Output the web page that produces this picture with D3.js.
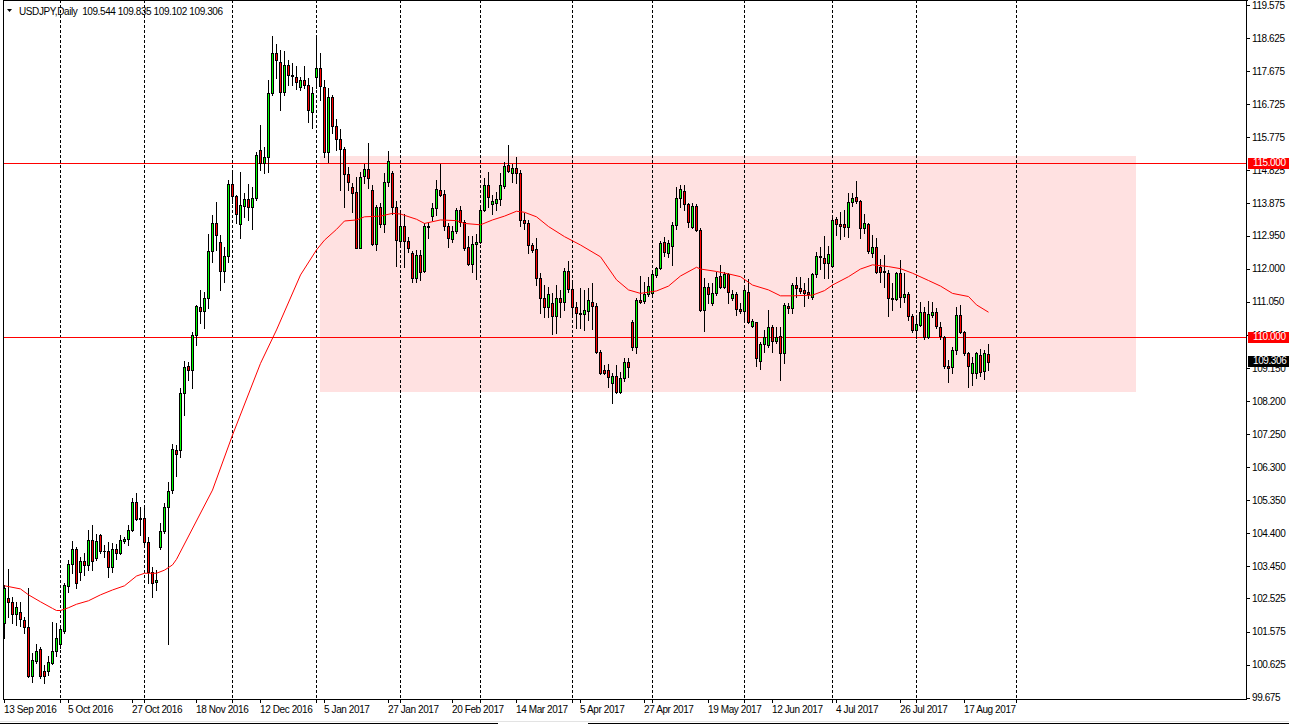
<!DOCTYPE html>
<html><head><meta charset="utf-8">
<script src="https://cdn.jsdelivr.net/npm/d3@7"></script>
<style>
html,body{margin:0;padding:0;background:#fff;overflow:hidden;}
svg{display:block;}
text{font-family:"Liberation Sans",Arial,sans-serif;font-size:10px;letter-spacing:-0.4px;}
</style></head><body>
<svg id="chart" width="1289" height="724"></svg>
<script>
// ---- data ----
const symbolTitle = "USDJPY,Daily";
const lastOHLC = ["109.544", "109.835", "109.102", "109.306"];
const opens = [101.83,102.55,102.42,102.07,102.13,101.91,101.70,100.31,100.74,101.08,100.44,100.43,100.66,101.01,101.22,101.60,102.88,103.51,103.94,103.30,
103.60,103.50,104.20,103.68,104.34,103.88,103.89,103.44,103.94,103.82,104.18,104.22,104.48,105.29,104.80,104.83,104.16,103.30,102.99,104.01,
104.46,105.14,105.64,106.79,106.80,108.42,109.20,109.09,110.10,110.89,110.79,111.15,112.51,113.30,112.76,111.92,112.37,114.42,114.09,113.27,
113.81,114.00,113.76,114.02,115.41,115.03,115.20,117.04,118.19,117.95,117.08,117.85,117.56,117.52,117.21,117.42,117.28,116.51,117.50,117.76,
117.23,115.36,116.94,116.10,115.72,115.43,114.71,114.36,114.19,112.60,114.66,114.85,114.26,112.70,113.76,113.28,114.50,114.74,113.76,112.80,
113.24,112.80,112.44,111.72,112.39,111.93,113.24,113.51,113.73,114.26,114.15,113.23,112.86,113.08,113.69,113.33,112.61,112.13,112.70,112.78,
113.70,114.39,113.85,113.90,113.99,114.38,114.98,114.74,114.88,114.74,113.40,113.30,112.68,112.56,111.72,111.17,110.91,111.02,110.65,111.15,
111.05,111.93,111.42,110.89,110.74,110.70,110.79,111.03,110.93,109.62,109.09,109.09,108.73,108.92,108.45,108.85,109.31,110.47,109.74,111.10,
111.07,111.26,111.31,111.83,112.01,112.77,112.46,112.65,113.25,114.02,114.24,113.85,113.19,113.80,113.11,110.81,111.46,111.00,111.29,111.79,
111.48,111.84,111.17,111.26,110.83,110.77,111.32,110.36,110.46,109.36,109.84,109.81,110.32,109.93,110.07,109.57,110.93,110.88,111.53,111.45,
111.39,111.33,111.18,111.84,112.36,112.31,112.17,112.09,113.43,113.29,113.29,113.19,113.91,114.05,113.94,113.16,113.28,112.46,112.63,112.06,
111.93,111.89,111.15,111.12,111.87,111.18,111.26,110.64,110.24,110.38,110.75,110.05,110.67,110.75,110.32,110.05,109.20,109.17,109.65,110.67,
110.19,109.57,108.99,108.99,109.52,109.06,109.544];
const highs = [102.90,103.37,102.58,102.43,102.41,102.00,102.82,100.95,101.22,101.12,100.62,100.86,101.85,101.81,101.70,102.96,103.63,104.19,104.00,103.73,
103.82,104.48,104.64,104.37,104.38,104.06,104.16,104.11,104.09,104.35,104.30,104.64,105.40,105.55,105.16,105.21,104.30,103.44,103.34,104.68,
105.26,105.88,106.96,106.93,108.56,109.35,109.33,110.19,110.96,111.39,111.34,113.00,113.54,113.91,112.97,112.63,114.55,114.83,114.12,114.79,
114.18,114.42,114.36,115.36,116.13,115.50,117.42,118.68,118.45,118.28,118.25,117.99,117.90,117.82,117.52,117.82,117.47,117.23,118.65,118.19,
117.42,117.18,117.00,116.30,116.00,115.50,114.93,114.45,114.64,114.79,115.01,115.62,114.40,113.83,113.88,114.74,115.39,114.80,113.93,113.59,
113.57,112.92,112.51,112.54,112.54,113.30,113.30,113.88,114.55,115.01,114.26,113.30,113.24,113.73,113.80,113.40,112.94,112.94,112.99,113.83,
114.60,114.79,114.12,114.21,114.74,115.07,115.55,115.02,115.22,114.83,113.60,113.40,112.73,112.87,111.87,111.53,111.48,111.29,111.53,111.39,
112.01,112.22,111.58,111.05,111.44,111.39,111.44,111.58,111.00,109.66,109.23,109.25,108.99,109.23,109.04,109.42,109.42,110.53,111.15,111.79,
111.63,111.77,111.96,112.06,112.80,112.92,112.82,113.33,114.36,114.39,114.39,113.88,113.88,113.85,113.16,111.72,111.60,111.60,111.91,112.11,
111.91,111.87,111.39,111.34,111.00,111.53,111.69,110.55,110.48,109.90,110.24,110.81,110.38,110.33,110.33,111.00,111.00,111.58,111.77,111.75,
111.58,111.72,111.89,112.49,112.63,112.94,112.65,113.49,113.49,113.64,113.69,114.16,114.18,114.53,113.97,113.57,113.30,112.97,112.89,112.27,
112.39,111.96,111.58,111.91,112.25,111.87,111.34,110.69,110.57,111.05,110.91,111.08,111.05,110.86,110.48,110.07,109.38,109.74,110.91,110.96,
110.22,109.62,109.47,109.62,109.68,109.66,109.835];
const lows = [101.40,102.00,101.81,101.76,101.74,101.54,100.28,100.12,100.66,100.25,100.09,100.33,100.63,100.87,101.10,101.54,102.72,103.25,102.82,103.06,
103.20,103.34,103.34,103.63,103.82,103.71,103.15,103.30,103.65,103.79,104.13,104.06,104.45,104.78,104.35,104.10,102.96,102.56,102.77,103.95,
104.40,101.22,105.55,106.03,106.60,107.80,108.80,108.56,109.81,110.45,110.29,110.86,112.20,112.54,111.39,111.63,112.20,113.88,113.30,112.87,
113.49,113.40,113.13,113.97,114.83,114.74,114.79,116.99,117.47,116.56,116.99,117.28,117.28,117.15,117.13,117.18,116.22,116.05,117.18,116.85,
115.22,115.07,115.90,115.40,114.26,113.78,114.26,113.64,112.58,112.58,114.45,114.31,112.67,112.54,113.19,113.04,114.38,113.57,112.08,112.63,
112.06,112.49,111.63,111.63,111.68,111.91,112.87,113.40,113.54,114.09,113.11,112.61,112.78,113.02,113.23,112.54,112.11,111.91,111.69,112.75,
113.67,113.78,113.57,113.70,113.83,114.31,114.79,114.50,114.45,113.23,113.15,112.45,112.49,111.53,110.72,110.62,110.62,110.12,110.14,110.62,
110.81,111.34,110.62,110.29,110.29,110.24,110.53,110.26,109.59,108.97,108.97,108.61,108.13,108.42,108.42,108.77,108.90,109.66,109.59,111.00,
111.00,111.22,111.27,111.77,111.98,112.35,112.33,112.11,113.13,113.78,113.70,113.21,113.16,113.08,110.79,110.22,111.00,110.96,111.25,111.44,
111.44,111.00,111.10,110.67,110.72,110.53,110.43,110.33,109.19,109.12,109.62,109.76,109.62,109.86,108.80,109.28,110.72,110.72,111.20,111.29,
110.93,111.15,111.12,111.77,111.98,111.72,111.72,112.06,112.97,112.84,112.94,112.92,113.80,113.88,112.89,113.02,112.46,112.33,111.87,111.63,
111.48,110.65,110.81,111.10,110.91,111.05,110.53,110.19,110.00,110.34,109.98,110.00,110.62,110.29,109.98,109.14,108.74,108.99,109.55,110.14,
109.52,108.61,108.66,108.87,108.92,108.83,109.102];
const closes = [102.82,102.42,102.07,102.29,101.93,101.70,100.31,100.76,101.01,100.31,100.30,100.69,101.01,101.38,101.64,102.91,103.51,103.94,102.96,103.60,
103.48,104.20,103.61,104.18,103.88,103.90,103.44,103.94,103.82,104.20,104.23,104.48,105.29,104.80,104.83,104.16,103.30,102.98,103.06,104.46,
105.14,105.62,106.81,106.67,108.42,109.17,109.09,110.10,110.93,110.77,111.15,112.51,113.30,112.97,111.92,112.37,114.42,114.09,113.56,113.83,
114.00,113.76,114.02,115.27,115.03,115.20,117.04,118.19,117.99,117.08,117.85,117.56,117.53,117.35,117.42,117.28,116.56,117.04,117.76,117.25,
115.36,116.94,116.10,115.72,115.43,114.71,114.50,114.18,112.60,114.62,114.85,114.60,112.70,113.76,113.28,114.50,115.09,113.76,112.81,113.24,
112.79,112.60,111.72,112.39,111.91,113.24,113.21,113.73,114.28,114.12,113.23,112.87,113.08,113.69,113.33,112.60,112.13,112.71,112.77,113.70,
114.39,114.07,113.93,114.00,114.40,114.95,114.81,114.89,114.74,113.40,113.30,112.68,112.54,111.72,111.17,110.91,111.26,110.65,111.15,111.05,
111.93,111.41,110.89,110.74,110.70,110.80,111.10,110.93,109.62,109.00,109.00,108.88,108.92,108.45,108.85,109.31,109.17,109.74,111.10,111.05,
111.26,111.50,111.84,112.01,112.75,112.47,112.75,113.25,114.02,114.28,113.85,113.35,113.80,113.11,110.81,111.46,111.27,111.29,111.77,111.48,
111.84,111.32,111.26,110.83,110.77,111.39,110.46,110.50,109.42,109.84,110.05,110.32,109.93,110.05,109.57,110.96,110.86,111.53,111.44,111.37,
111.31,111.27,111.84,112.36,112.33,112.17,112.42,113.40,113.27,113.24,113.21,113.91,114.02,113.93,113.16,113.32,112.52,112.61,111.91,111.91,
111.91,111.15,111.12,111.87,111.18,111.27,110.64,110.24,110.41,110.75,110.05,110.70,110.75,110.35,110.07,109.20,109.14,109.66,110.67,110.19,
109.59,109.19,109.30,109.57,109.04,109.57,109.306];
// moving average read at selected bars
const maBars = [0,4,6,9,12,13,14,16,18,21,24,27,30,33,35,38,40,42,43,52,57,64,68,74,78,80,83,85,88,90,94,97,99,103,105,109,113,115,119,122,125,128,130,133,136,140,144,149,153,156,159,163,166,169,173,174,178,181,184,187,191,194,197,202,205,207,211,214,217,221,224,227,231,234,237,241,243,246];
const maValues = [102.89,102.80,102.63,102.43,102.24,102.18,102.18,102.26,102.36,102.46,102.63,102.77,102.89,103.17,103.25,103.25,103.34,103.49,103.65,105.64,107.22,109.28,110.24,111.82,112.54,112.82,113.13,113.37,113.40,113.49,113.51,113.59,113.57,113.42,113.30,113.40,113.38,113.30,113.26,113.40,113.51,113.65,113.62,113.49,113.21,112.92,112.68,112.34,111.68,111.39,111.29,111.36,111.50,111.79,112.04,111.99,111.92,111.85,111.77,111.53,111.39,111.22,111.22,111.24,111.37,111.53,111.77,111.99,112.11,112.06,112.00,111.87,111.66,111.50,111.29,111.20,110.96,110.75];
const timeLabels = ["13 Sep 2016","5 Oct 2016","27 Oct 2016","18 Nov 2016","12 Dec 2016","5 Jan 2017","27 Jan 2017","20 Feb 2017","14 Mar 2017","5 Apr 2017","27 Apr 2017","19 May 2017","12 Jun 2017","4 Jul 2017","26 Jul 2017","17 Aug 2017"];
const timeLabelBars = [0,16,32,48,64,80,96,112,128,144,160,176,192,208,224,240];
const monthGridBars = [14,35,57,78,99,119,142,162,185,207,228,253];
const priceTicks = [119.575,118.625,117.675,116.725,115.775,114.825,113.875,112.950,112.000,111.050,110.100,109.150,108.200,107.250,106.300,105.350,104.400,103.450,102.525,101.575,100.625,99.675];
const levelLines = [115, 110];
const zonePrices = [115.237, 108.466];
const zoneBars = [79, 283];

// ---- drawing ----
const W = 1289, H = 724;
const plotL = 3, plotR = 1247, plotT = 0, plotB = 699;
const svg = d3.select("#chart");
const x = d3.scaleLinear().domain([0, 246]).range([4, 988]);
const y = d3.scaleLinear().domain([99.675, 119.575]).range([697.7, 5]);

svg.append("rect").attr("width", W).attr("height", H).attr("fill", "#fff");
svg.append("defs").append("clipPath").attr("id", "plotclip")
  .append("rect").attr("x", plotL).attr("y", plotT).attr("width", plotR - plotL).attr("height", plotB - plotT);

const plot = svg.append("g").attr("clip-path", "url(#plotclip)");

// zone rectangle
plot.append("rect")
  .attr("x", Math.round(x(zoneBars[0])))
  .attr("y", Math.round(y(zonePrices[0])))
  .attr("width", Math.round(x(zoneBars[1])) - Math.round(x(zoneBars[0])))
  .attr("height", Math.round(y(zonePrices[1])) - Math.round(y(zonePrices[0])))
  .attr("fill", "#ffe1e1");

// vertical dashed grid
plot.selectAll("line.grid").data(monthGridBars).join("line")
  .attr("class", "grid")
  .attr("x1", d => Math.round(x(d)) + 0.5).attr("x2", d => Math.round(x(d)) + 0.5)
  .attr("y1", plotT).attr("y2", plotB)
  .attr("stroke", "#000").attr("stroke-width", 1).attr("stroke-dasharray", "3,2")
  .attr("shape-rendering", "crispEdges");

// horizontal level lines
plot.selectAll("line.level").data(levelLines).join("line")
  .attr("class", "level")
  .attr("x1", plotL).attr("x2", plotR)
  .attr("y1", d => Math.round(y(d)) - 0.5).attr("y2", d => Math.round(y(d)) - 0.5)
  .attr("stroke", "#ff0000").attr("stroke-width", 1).attr("shape-rendering", "crispEdges");

// candles
const bars = d3.range(opens.length).map(i => ({i, o: opens[i], h: highs[i], l: lows[i], c: closes[i]}));
const cg = plot.append("g").attr("shape-rendering", "crispEdges");
bars.forEach(b => {
  const cx = Math.round(x(b.i));
  const yh = Math.round(y(b.h)), yl = Math.round(y(b.l));
  const top = Math.round(y(Math.max(b.o, b.c))), bot = Math.round(y(Math.min(b.o, b.c)));
  cg.append("line").attr("x1", cx + 0.5).attr("x2", cx + 0.5).attr("y1", yh).attr("y2", yl + 1)
    .attr("stroke", "#000").attr("stroke-width", 1);
  if (bot - top < 1) {
    cg.append("line").attr("x1", cx - 1).attr("x2", cx + 2).attr("y1", top + 0.5).attr("y2", top + 0.5)
      .attr("stroke", "#000").attr("stroke-width", 1);
  } else {
    cg.append("rect").attr("x", cx - 0.5).attr("y", top + 0.5).attr("width", 2).attr("height", bot - top)
      .attr("fill", b.c >= b.o ? "#00ff00" : "#ff0000").attr("stroke", "#000").attr("stroke-width", 1);
  }
});

// moving average
const maLine = d3.line().x(d => x(d[0]) + 0.5).y(d => y(d[1]));
plot.append("path").datum(maBars.map((b, k) => [b, maValues[k]]))
  .attr("d", maLine).attr("fill", "none").attr("stroke", "#ff0000").attr("stroke-width", 1);

// frame
const frame = svg.append("g").attr("shape-rendering", "crispEdges").attr("stroke", "#000").attr("stroke-width", 1);
frame.append("line").attr("x1", plotL + 0.5).attr("x2", plotL + 0.5).attr("y1", 0).attr("y2", plotB + 1);
frame.append("line").attr("x1", plotL).attr("x2", plotR + 1).attr("y1", 0.5).attr("y2", 0.5);
frame.append("line").attr("x1", plotR - 0.5).attr("x2", plotR - 0.5).attr("y1", 0).attr("y2", plotB + 1);
frame.append("line").attr("x1", plotL).attr("x2", plotR).attr("y1", plotB + 0.5).attr("y2", plotB + 0.5);

// price axis
const yAxis = d3.axisRight(y).tickValues(priceTicks).tickSize(4).tickPadding(2).tickFormat(d3.format(".3f"));
const ya = svg.append("g").attr("transform", `translate(${plotR - 1},0)`).call(yAxis);
ya.select(".domain").remove();
ya.selectAll("text").attr("font-family", "Liberation Sans, Arial, sans-serif").attr("font-size", 10).attr("fill", "#000");
ya.selectAll("line").attr("shape-rendering", "crispEdges");

// time axis
const xAxis = d3.axisBottom(x).tickValues(timeLabelBars).tickSize(4).tickPadding(3)
  .tickFormat((d, k) => timeLabels[k]);
const xa = svg.append("g").attr("transform", `translate(0,${plotB})`).call(xAxis);
xa.select(".domain").remove();
xa.selectAll("text").attr("text-anchor", "start").attr("x", -0.5)
  .attr("font-family", "Liberation Sans, Arial, sans-serif").attr("font-size", 10).attr("fill", "#000");
xa.selectAll("line").attr("shape-rendering", "crispEdges");
const xGridAxis = d3.axisBottom(x).tickValues(monthGridBars).tickSize(4).tickFormat("");
const xg = svg.append("g").attr("transform", `translate(0,${plotB})`).call(xGridAxis);
xg.select(".domain").remove();
xg.selectAll("line").attr("shape-rendering", "crispEdges");

// price tags
function tag(price, bg, label) {
  const yc = Math.round(y(price)) - 1;
  svg.append("rect").attr("x", plotR + 1).attr("y", yc - 5).attr("width", W - plotR - 1).attr("height", 11)
    .attr("fill", bg).attr("shape-rendering", "crispEdges");
  svg.append("text").attr("x", plotR + 6).attr("y", yc).attr("dy", "0.34em").attr("fill", "#fff").text(label);
}
levelLines.forEach(v => tag(v, "#ff0000", d3.format(".3f")(v)));
tag(closes[closes.length - 1], "#000", lastOHLC[3]);

// title
svg.append("path").attr("d", "M7,9 L12,9 L9.5,12 Z").attr("fill", "#000");
svg.append("text").attr("x", 19).attr("y", 14.5).attr("fill", "#000").style("white-space", "pre")
  .text(symbolTitle + "  " + lastOHLC.join(" "));

// window bottom border
svg.append("line").attr("x1", 0).attr("x2", W).attr("y1", 721.5).attr("y2", 721.5).attr("stroke", "#e3e3e3").attr("shape-rendering", "crispEdges");
svg.append("line").attr("x1", 0).attr("x2", 498).attr("y1", 723.5).attr("y2", 723.5).attr("stroke", "#000").attr("shape-rendering", "crispEdges");
svg.append("line").attr("x1", 588).attr("x2", W).attr("y1", 723.5).attr("y2", 723.5).attr("stroke", "#000").attr("shape-rendering", "crispEdges");
</script>
</body></html>
